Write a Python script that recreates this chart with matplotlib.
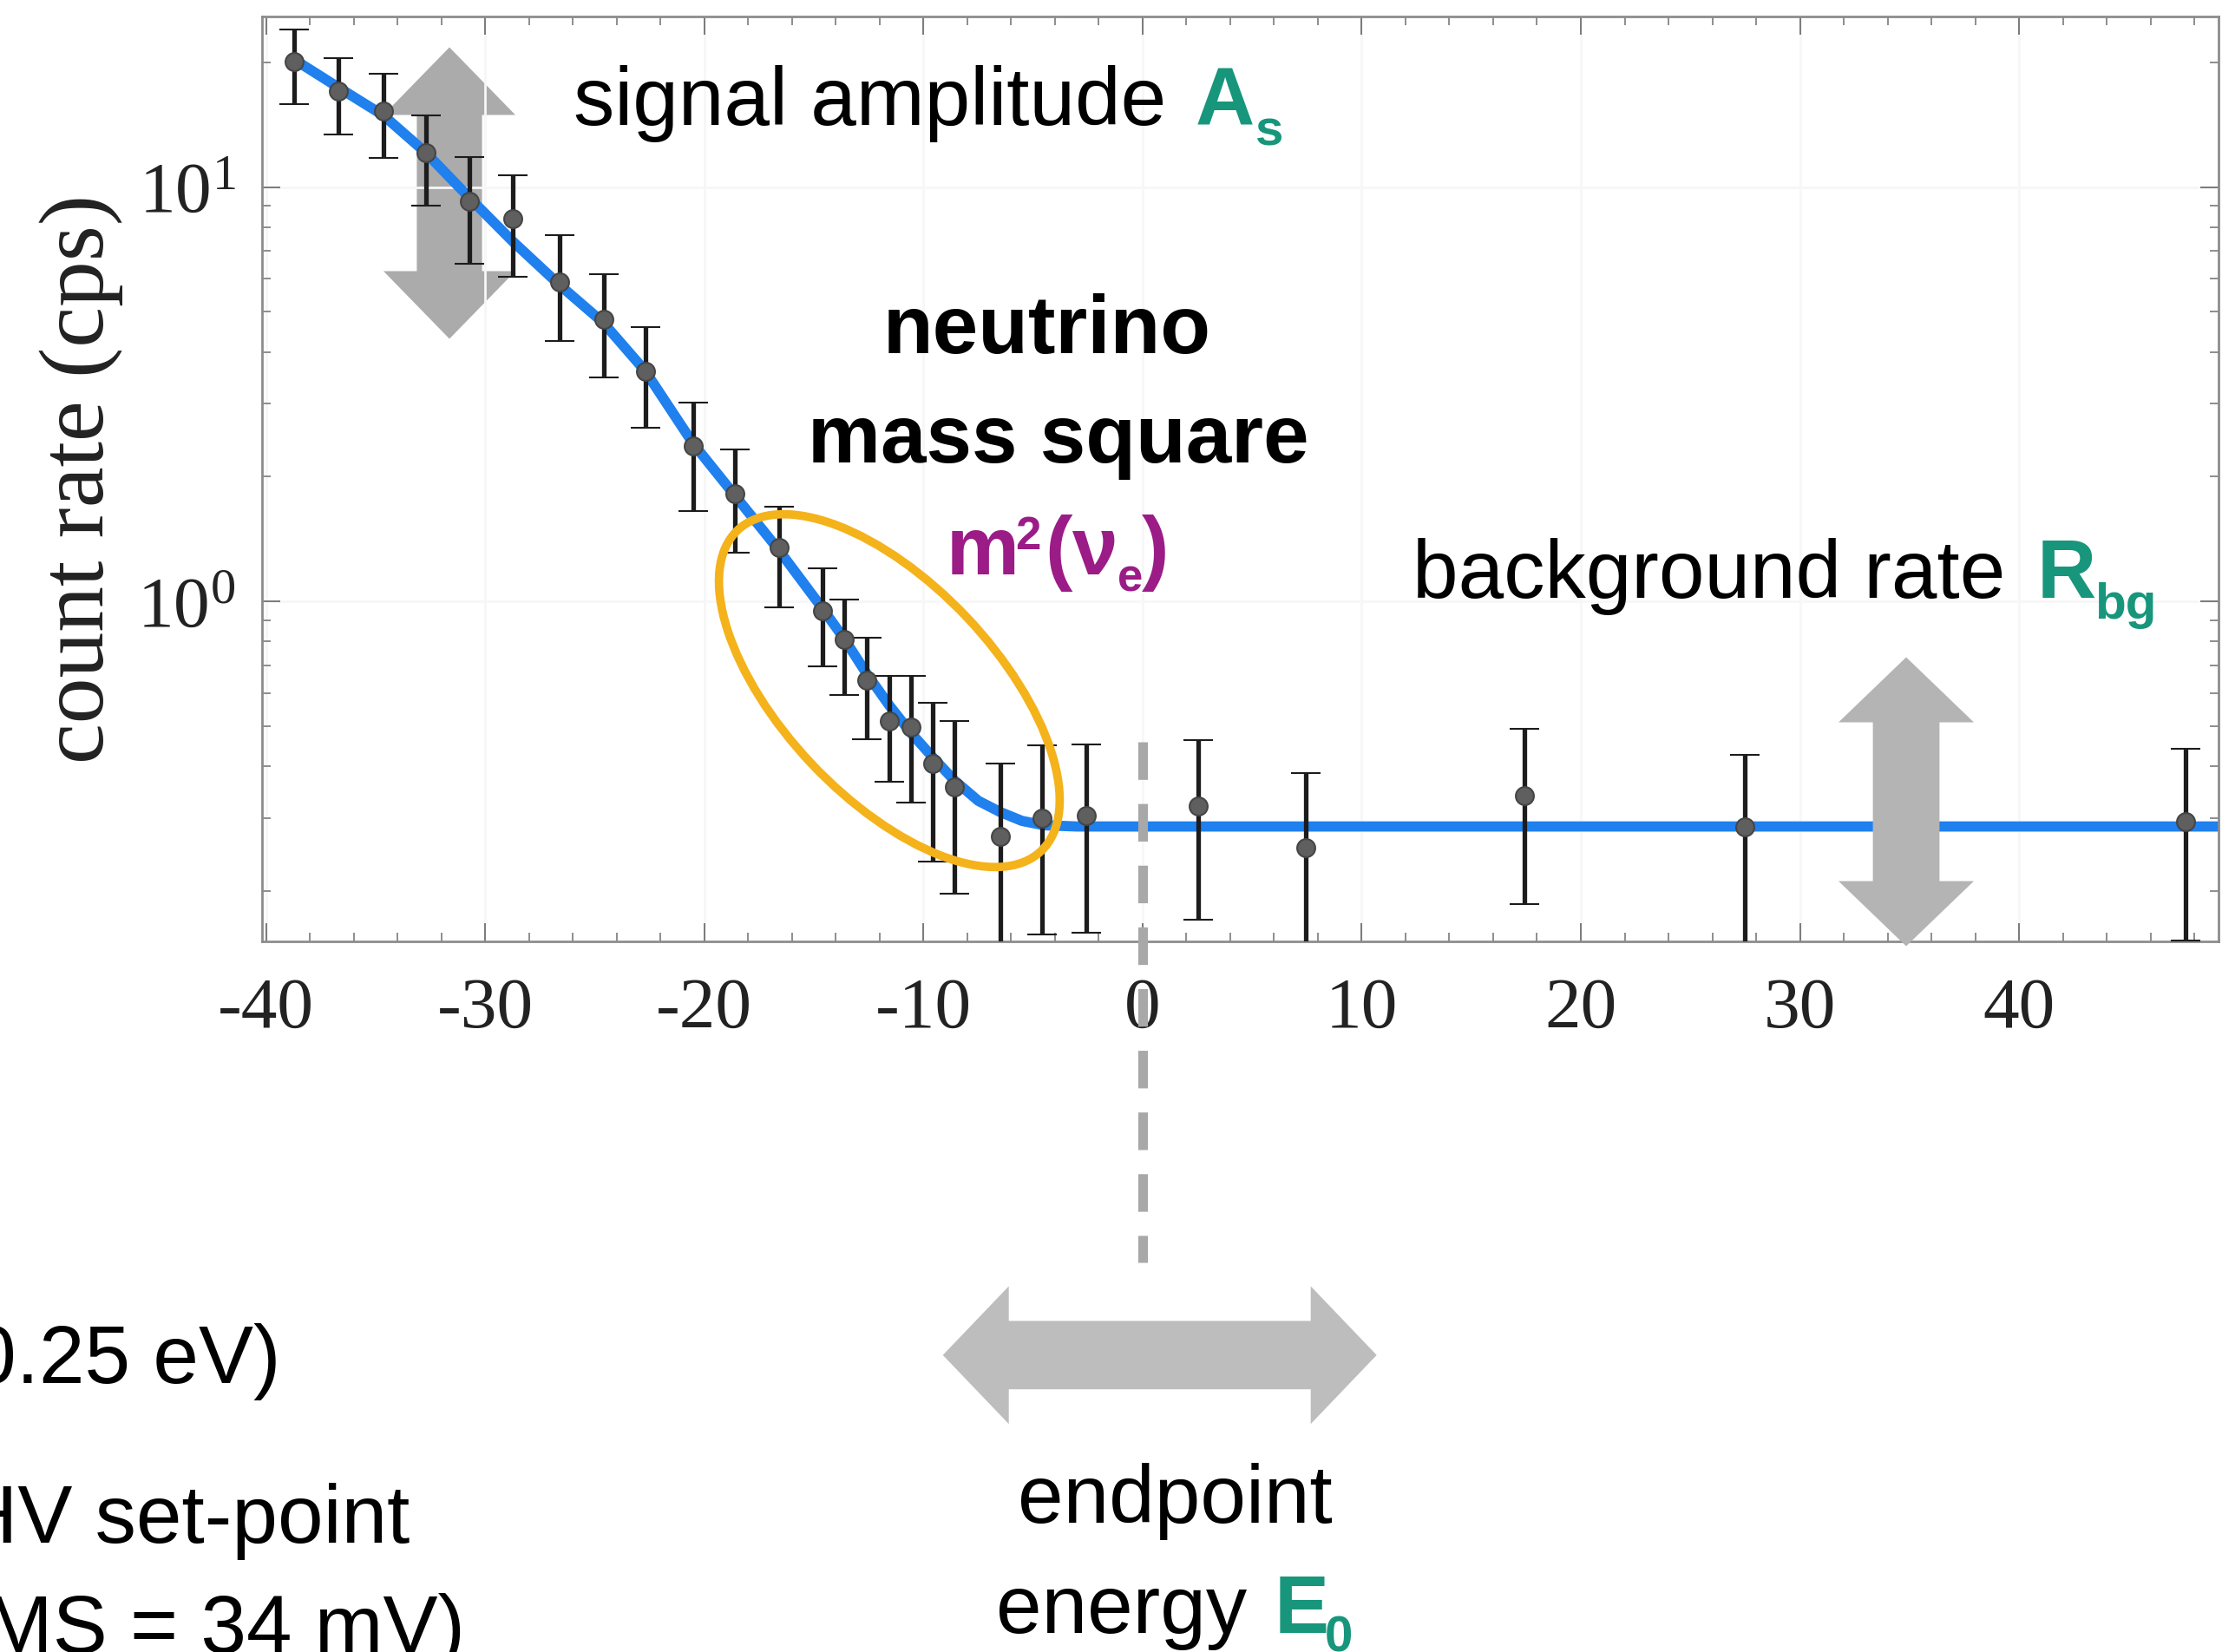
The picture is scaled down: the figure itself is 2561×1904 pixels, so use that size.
import matplotlib
matplotlib.use("Agg")
import matplotlib.pyplot as plt
from matplotlib.patches import Polygon, Ellipse
from matplotlib.ticker import MultipleLocator, NullFormatter
import numpy as np

# retarding energy relative to E0 (eV) and measured rate (cps)
energy = [-38.7, -36.7, -34.65, -32.7, -30.7, -28.75, -26.6, -24.6, -22.7, -20.5,
          -18.6, -16.6, -14.6, -13.6, -12.6, -11.55, -10.55, -9.57, -8.6, -6.5,
          -4.57, -2.57, 2.52, 7.45, 17.43, 27.5, 47.6]
rate = [20.05, 17.06, 15.22, 12.08, 9.23, 8.38, 5.90, 4.79, 3.59, 2.37,
        1.82, 1.346, 0.950, 0.810, 0.644, 0.513, 0.496, 0.405, 0.356, 0.270,
        0.300, 0.304, 0.320, 0.254, 0.340, 0.2855, 0.294]
rate_hi = [23.97, 20.5, 18.78, 14.92, 11.83, 10.68, 7.64, 6.16, 4.58, 3.01,
           2.33, 1.689, 1.203, 1.01, 0.817, 0.661, 0.661, 0.568, 0.513, 0.405,
           0.448, 0.452, 0.463, 0.385, 0.491, 0.4256, 0.44]
rate_lo = [15.88, 13.4, 11.75, 9.0, 6.54, 6.07, 4.24, 3.47, 2.62, 1.655,
           1.31, 0.966, 0.695, 0.594, 0.464, 0.366, 0.327, 0.2356, 0.197, 0.12,
           0.157, 0.1587, 0.17, 0.12, 0.1855, 0.14, 0.152]

# fit curve
fit_e = [-38.9, -36.7, -34.65, -32.7, -30.7, -28.75, -26.6, -24.6, -22.7, -20.5,
         -18.6, -16.6, -14.6, -13.6, -12.6, -11.55, -10.55, -9.57, -8.6, -7.5,
         -6.5, -5.5, -4.5, -3.0, 49.1]
fit_rate = [20.6, 17.4, 14.9, 12.1, 9.4, 7.4, 5.8, 4.7, 3.6, 2.4,
            1.8, 1.33, 0.96, 0.81, 0.67, 0.56, 0.48, 0.42, 0.37, 0.33,
            0.31, 0.295, 0.288, 0.286, 0.286]

x_ticks = [-40, -30, -20, -10, 0, 10, 20, 30, 40]

plt.rcParams["font.family"] = "Liberation Serif"
plt.rcParams["mathtext.fontset"] = "stix"
plt.rcParams["axes.unicode_minus"] = False

W, H = 2561, 1904
fig = plt.figure(figsize=(W / 100, H / 100), dpi=100)
fig.patch.set_facecolor("white")

back = fig.add_axes([0, 0, 1, 1], zorder=0)
ax = fig.add_axes([302 / W, 1 - 1085 / H, (2557 - 302) / W, (1085 - 19) / H], zorder=1)
front = fig.add_axes([0, 0, 1, 1], zorder=2)
for o in (back, front):
    o.set_xlim(0, W)
    o.set_ylim(H, 0)
    o.axis("off")
    o.patch.set_visible(False)
ax.patch.set_visible(False)

# main plot
rate_a = np.array(rate)
yerr = [rate_a - np.array(rate_lo), np.array(rate_hi) - rate_a]
ax.plot(fit_e, fit_rate, color="#1f80ee", lw=8.5, solid_capstyle="butt", zorder=2)
ax.errorbar(energy, rate, yerr=yerr, fmt="o", ms=15, mfc="#5f5f5f", mec="#454545",
            mew=1.5, ecolor="#1c1c1c", elinewidth=3.8, capsize=12, capthick=3.5, zorder=3)

ax.set_yscale("log")
ax.set_xlim(-40.18, 49.1)
ax.set_ylim(0.151, 25.8)
ax.set_xticks(x_ticks)
ax.set_xticklabels([str(t) for t in x_ticks])
ax.xaxis.set_minor_locator(MultipleLocator(2))
ax.yaxis.set_minor_formatter(NullFormatter())
ax.grid(which="major", color="#f7f7f7", lw=2, zorder=0)
ax.tick_params(which="both", direction="in", top=True, right=True, color="#7a7a7a",
               labelcolor="#222222")
ax.tick_params(which="major", length=15, width=1.4, labelsize=60)
ax.tick_params(axis="x", which="major", pad=30)
ax.tick_params(axis="y", which="major", pad=22)
ax.tick_params(which="minor", length=7, width=1.2)
for s in ax.spines.values():
    s.set_color("#8c8c8c")
    s.set_linewidth(2)
ax.set_ylabel("count rate (cps)", fontsize=76, color="#222222", va="center")
ax.yaxis.set_label_coords((94 - 302) / (2557 - 302), 0.5)


def double_arrow(o, cx, cy, half_len, head_len, head_w, shaft_w, vertical, color, z):
    a, b = half_len, half_len - head_len
    pts = [(0, -a), (head_w, -b), (shaft_w, -b), (shaft_w, b), (head_w, b),
           (0, a), (-head_w, b), (-shaft_w, b), (-shaft_w, -b), (-head_w, -b)]
    if not vertical:
        pts = [(p[1], p[0]) for p in pts]
    pts = [(cx + px, cy + py) for px, py in pts]
    o.add_patch(Polygon(pts, closed=True, facecolor=color, edgecolor="none", zorder=z))


# grey arrows
double_arrow(back, 518, 222.5, 168, 78, 76, 37.6, True, "#ababab", 1)
double_arrow(front, 2197, 924, 166.5, 75, 78, 38.4, True, "#b4b4b4", 1)
double_arrow(front, 1336.7, 1561.8, 250, 76, 79.4, 39.4, False, "#bdbdbd", 1)

# dashed endpoint line
x0 = ax.transData.transform((0, 1))[0]
front.plot([x0, x0], [855, 1455], color="#a8a8a8", lw=8, solid_capstyle="butt",
           linestyle=(0, (3.9, 2.5)), dash_capstyle="butt", zorder=2)

# ellipse around the sensitive region
front.add_patch(Ellipse((1025, 796), 509, 246, angle=46.6, fill=False,
                        edgecolor="#f4b21b", lw=7, zorder=3))

teal = "#17967c"
mag = "#9b1c87"
sans = "Liberation Sans"
fs, fsub = 68, 42

front.text(661, 143.7, "signal amplitude", family=sans, fontsize=fs, va="baseline")
front.text(1378, 145, "A", family=sans, fontsize=fs, weight="bold", color=teal, va="baseline")
front.text(1447, 168, "s", family=sans, fontsize=fsub, weight="bold", color=teal, va="baseline")

front.text(1207, 407, "neutrino", family=sans, fontsize=fs, weight="bold", ha="center", va="baseline")
front.text(1220, 533, "mass square", family=sans, fontsize=fs, weight="bold", ha="center", va="baseline")
front.text(1091, 662, "m", family=sans, fontsize=fs, weight="bold", color=mag, va="baseline")
front.text(1170, 633, "2", family=sans, fontsize=38, weight="bold", color=mag, va="baseline")
front.text(1204, 662, "(", family=sans, fontsize=fs, weight="bold", color=mag, va="baseline")
front.text(1236, 662, "\u03bd", family=sans, fontsize=fs, weight="bold", color=mag, va="baseline")
front.text(1288, 681, "e", family=sans, fontsize=38, weight="bold", color=mag, va="baseline")
front.text(1316, 662, ")", family=sans, fontsize=fs, weight="bold", color=mag, va="baseline")

front.text(1628, 688.6, "background rate", family=sans, fontsize=fs, va="baseline")
front.text(2348, 688.6, "R", family=sans, fontsize=fs, weight="bold", color=teal, va="baseline")
front.text(2414, 713, "bg", family=sans, fontsize=fsub, weight="bold", color=teal, va="baseline")

front.text(1354.6, 1754.6, "endpoint", family=sans, fontsize=fs, ha="center", va="baseline")
front.text(1148, 1881.8, "energy", family=sans, fontsize=fs, va="baseline")
front.text(1469, 1881.8, "E", family=sans, fontsize=fs, weight="bold", color=teal, va="baseline")
front.text(1527, 1903, "0", family=sans, fontsize=fsub, weight="bold", color=teal, va="baseline")

front.text(324, 1593.8, "0.25 eV)", family=sans, fontsize=fs, ha="right", va="baseline")
front.text(472, 1777.6, "HV set-point", family=sans, fontsize=fs, ha="right", va="baseline")
front.text(536, 1905, "MS = 34 mV)", family=sans, fontsize=fs, ha="right", va="baseline")

fig.savefig("out.png", dpi=100, facecolor="white")
